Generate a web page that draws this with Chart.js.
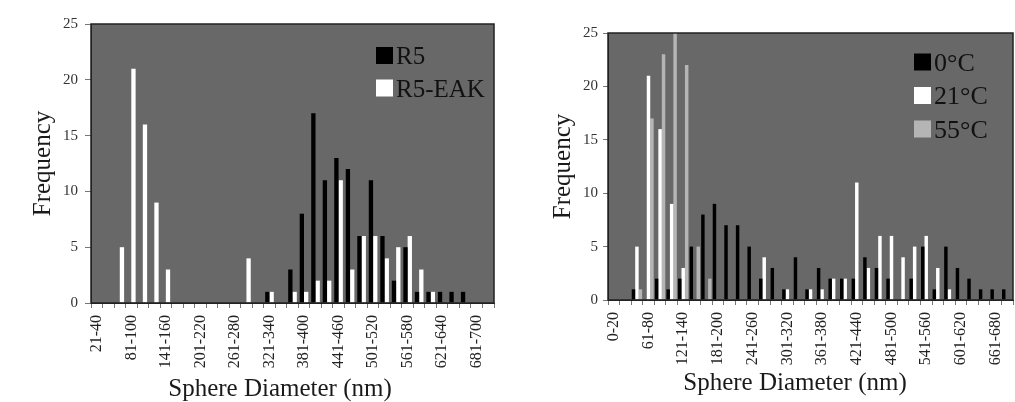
<!DOCTYPE html>
<html><head><meta charset="utf-8">
<script src="https://cdn.jsdelivr.net/npm/chart.js@4/dist/chart.umd.min.js"></script>
<style>
html,body{margin:0;padding:0;background:#fff;}
#wrap{position:relative;width:1015px;height:402px;overflow:hidden;background:#fff;}
canvas{position:absolute;top:0;}
#c1{left:0;} #c2{left:520px;}
</style></head><body>
<div id="wrap"><canvas id="c1" width="520" height="402"></canvas><canvas id="c2" width="495" height="402"></canvas></div>
<script>
// ---------- data ----------
const leftCategories = ['21-40','41-60','61-80','81-100','101-120','121-140','141-160','161-180','181-200','201-220','221-240','241-260','261-280','281-300','301-320','321-340','341-360','361-380','381-400','401-420','421-440','441-460','461-480','481-500','501-520','521-540','541-560','561-580','581-600','601-620','621-640','641-660','661-680','681-700','701-720'];
const leftTickLabels = ['21-40','81-100','141-160','201-220','261-280','321-340','381-400','441-460','501-520','561-580','621-640','681-700'];
const r5    = [0,0,0,0,0,0,0,0,0,0,0,0,0,0,0,1,0,3,8,17,11,13,12,6,11,6,2,5,1,1,1,1,1,0,0];
const r5eak = [0,0,5,21,16,9,3,0,0,0,0,0,0,4,0,1,0,1,1,2,2,11,3,6,6,4,5,6,3,1,0,0,0,0,0];

const rightCategories = ['0-20','21-40','41-60','61-80','81-100','101-120','121-140','141-160','161-180','181-200','201-220','221-240','241-260','261-280','281-300','301-320','321-340','341-360','361-380','381-400','401-420','421-440','441-460','461-480','481-500','501-520','521-540','541-560','561-580','581-600','601-620','621-640','641-660','661-680','681-700'];
const rightTickLabels = ['0-20','61-80','121-140','181-200','241-260','301-320','361-380','421-440','481-500','541-560','601-620','661-680'];
const t0C  = [0,0,1,0,2,1,2,5,8,9,7,7,5,2,3,1,4,1,3,2,2,2,4,3,2,0,2,5,1,5,3,2,1,1,1];
const t21C = [0,0,5,21,16,9,3,0,0,0,0,0,0,4,0,1,0,1,1,2,2,11,3,6,6,4,5,6,3,1,0,0,0,0,0];
const t55C = [0,0,1,17,23,25,22,5,2,0,0,0,0,0,0,0,0,0,0,0,0,0,0,0,0,0,0,0,0,0,0,0,0,0,0];

const yMin = 0, yMax = 25, yStep = 5;
const xAxisTitle = 'Sphere Diameter (nm)';
const yAxisTitle = 'Frequency';

// ---------- drawing ----------
const FONT = '"Liberation Serif", "Times New Roman", serif';
Chart.defaults.font.family = FONT;
Chart.defaults.color = '#222';

const plotFrame = {
  id: 'plotFrame',
  beforeDraw(chart, args, o) {
    const {ctx, chartArea: a} = chart;
    ctx.save();
    ctx.fillStyle = '#fff';
    ctx.fillRect(0, 0, chart.width, chart.height);
    ctx.fillStyle = o.background;
    ctx.fillRect(a.left, a.top, a.right - a.left, a.bottom - a.top);
    ctx.restore();
  },
  afterDatasetsDraw(chart, args, o) {
    const {ctx, chartArea: a} = chart;
    ctx.save();
    ctx.strokeStyle = o.border; ctx.lineWidth = o.borderWidth;
    ctx.strokeRect(a.left, a.top, a.right - a.left, a.bottom - a.top);
    ctx.restore();
  },
  afterDraw(chart, args, o) {
    const {ctx} = chart;
    ctx.save();
    const t = o.xTitle;
    ctx.font = t.size + 'px ' + FONT;
    ctx.fillStyle = '#1a1a1a'; ctx.textAlign = 'center'; ctx.textBaseline = 'middle';
    ctx.fillText(xAxisTitle, t.x, t.y);
    const L = o.legend;
    ctx.font = L.size + 'px ' + FONT;
    ctx.textAlign = 'left'; ctx.textBaseline = 'alphabetic';
    chart.data.datasets.forEach((ds, i) => {
      const top = L.y + i * L.gap;
      ctx.fillStyle = ds.backgroundColor;
      ctx.fillRect(L.x, top, L.box, L.box);
      ctx.fillStyle = '#111';
      ctx.fillText(ds.label, L.x + L.box + L.textGap, top + L.box);
    });
    ctx.restore();
  }
};

function makeChart(canvas, cats, shown, datasets, cfg) {
  return new Chart(canvas, {
    type: 'bar',
    data: {labels: cats, datasets: datasets},
    options: {
      responsive: false, animation: false, devicePixelRatio: 1,
      layout: {padding: cfg.padding},
      datasets: {bar: {barPercentage: 1, categoryPercentage: cfg.catPct, borderWidth: 0}},
      plugins: {legend: {display: false}, tooltip: {enabled: false}, plotFrame: cfg.frame},
      scales: {
        x: {
          grid: {drawOnChartArea: false, drawTicks: true, tickLength: 5, color: '#777', offset: true},
          border: {display: true, color: '#222', width: 1},
          ticks: {autoSkip: false, minRotation: 90, maxRotation: 90, padding: 7, color: '#222',
                  font: {size: 16},
                  callback: (v, i) => shown.includes(cats[i]) ? cats[i] : ''},
          afterFit: (s) => { s.height = cfg.xHeight; s.paddingLeft = 0; s.paddingRight = 0; }
        },
        y: {
          min: yMin, max: yMax,
          ticks: {stepSize: yStep, padding: cfg.yPad, font: {size: 15}, color: '#333'},
          grid: {drawOnChartArea: false, drawTicks: true, tickLength: cfg.yTick, color: '#777'},
          border: {display: true, color: '#222', width: 1},
          title: {display: true, text: yAxisTitle, font: {size: 25}, color: '#1a1a1a', padding: {top: 4, bottom: 4}},
          afterFit: (s) => { s.width = cfg.yWidth; s.paddingTop = 0; s.paddingBottom = 0; }
        }
      }
    },
    plugins: [plotFrame]
  });
}

makeChart(document.getElementById('c1'), leftCategories, leftTickLabels, [
  {label: 'R5', data: r5, backgroundColor: '#000000'},
  {label: 'R5-EAK', data: r5eak, backgroundColor: '#ffffff'}
], {
  padding: {left: 24, right: 26, top: 24, bottom: 0},
  yWidth: 67, xHeight: 99, yPad: 7, yTick: 6, catPct: 0.75,
  frame: {background: '#686868', border: '#222', borderWidth: 1.5,
          xTitle: {x: 280, y: 389, size: 25},
          legend: {x: 376, y: 47, box: 17, gap: 32.5, textGap: 3, size: 25}}
});

makeChart(document.getElementById('c2'), rightCategories, rightTickLabels, [
  {label: '0°C', data: t0C, backgroundColor: '#000000'},
  {label: '21°C', data: t21C, backgroundColor: '#ffffff'},
  {label: '55°C', data: t55C, backgroundColor: '#b5b5b5'}
], {
  padding: {left: 24, right: 2, top: 33, bottom: 0},
  yWidth: 64, xHeight: 102, yPad: 5, yTick: 5, catPct: 0.9,
  frame: {background: '#686868', border: '#222', borderWidth: 1.5,
          xTitle: {x: 275, y: 383, size: 25},
          legend: {x: 394, y: 53.5, box: 17, gap: 33.5, textGap: 3, size: 26}}
});
</script>
</body></html>
